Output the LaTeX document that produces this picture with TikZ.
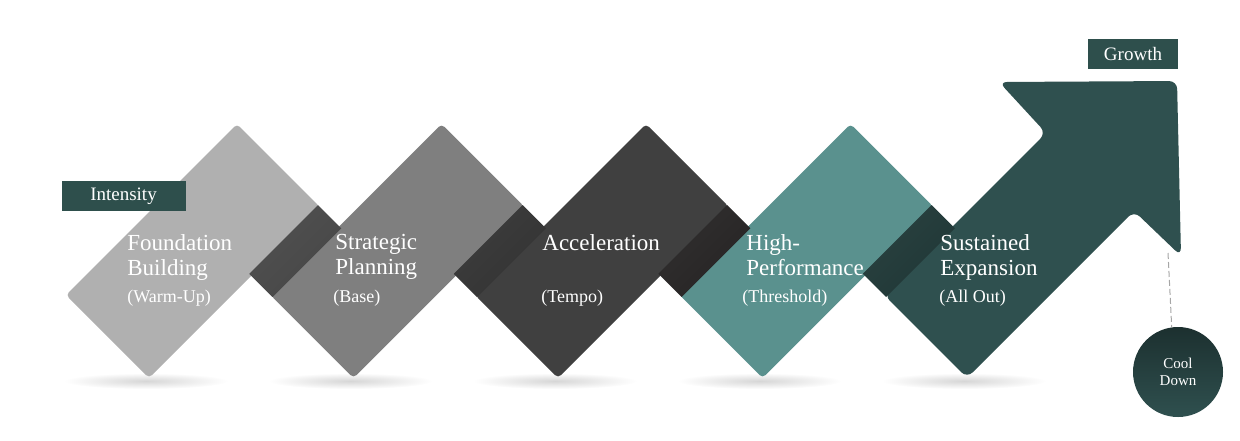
\documentclass[tikz,border=0pt]{standalone}
\usepackage{fontspec}
\setmainfont{Liberation Serif}
\usetikzlibrary{shapes}

\definecolor{stepone}{HTML}{B0B0B0}
\definecolor{steptwo}{HTML}{7F7F7F}
\definecolor{stepthree}{HTML}{404040}
\definecolor{stepfour}{HTML}{5A918E}
\definecolor{stepfive}{HTML}{2F504F}
\definecolor{foldone}{HTML}{474747}
\definecolor{foldtwo}{HTML}{333333}
\definecolor{foldthree}{HTML}{262424}
\definecolor{foldfour}{HTML}{1F3736}
\definecolor{tagteal}{HTML}{2E4F4C}

\begin{document}
\begin{tikzpicture}[x=0.5pt, y=-0.5pt,
		title/.style={text=white, font=\fontsize{11.5}{12.5}\selectfont, align=left, inner sep=0, anchor=north west},
		subtitle/.style={text=white, font=\fontsize{9}{10}\selectfont, inner sep=0, anchor=base west},
		tagbox/.style={fill=tagteal, text=white, font=\fontsize{9.5}{10}\selectfont, minimum width=62pt, minimum height=15pt, inner sep=0},
		shadowblob/.style={inner color=black!16, outer color=white},
		fold/.style={top color=#1, bottom color=#1!95!white, shading angle=225},
		cooldown/.style={circle, top color=black!40!stepfive, bottom color=stepfive, text=white, minimum size=45pt, inner sep=0, align=center, font=\fontsize{7.5}{8.5}\selectfont},
		dashline/.style={gray!70, line width=0.5pt, dash pattern=on 3pt off 1.5pt}]
	\useasboundingbox (0,0) rectangle (1240,440);

	% shadows %
	\shade[shadowblob] (146,381) ellipse (41pt and 4pt);
	\shade[shadowblob] (350.5,381) ellipse (41pt and 4pt);
	\shade[shadowblob] (555,381) ellipse (41pt and 4pt);
	\shade[shadowblob] (759.5,381) ellipse (41pt and 4pt);
	\shade[shadowblob] (964,381) ellipse (41pt and 4pt);

	% steps %
	\fill[stepone, rounded corners=2pt] (149,378) -- (66,295) -- (237,124) -- (320,207) -- cycle;
	\fill[steptwo, rounded corners=2pt] (353.5,378) -- (270.5,295) -- (441.5,124) -- (524.5,207) -- cycle;
	\fill[stepthree, rounded corners=2pt] (558,378) -- (475,295) -- (646,124) -- (729,207) -- cycle;
	\fill[stepfour, rounded corners=2pt] (762.5,378) -- (679.5,295) -- (850.5,124) -- (933.5,207) -- cycle;
	\fill[stepfive, rounded corners=4pt] (967,378) -- (884,295) -- (1046,133) -- (999,82) -- (1177,81) -- (1181,256) -- (1134,211) -- cycle;

	% folds %
	\shade[fold=foldone] (318,205) -- (341.25,228.25) -- (272.5,297) -- (249.25,273.75) -- cycle;
	\shade[fold=foldtwo] (522.5,205) -- (545.75,228.25) -- (477,297) -- (453.75,273.75) -- cycle;
	\shade[fold=foldthree] (727,205) -- (750.25,228.25) -- (681.5,297) -- (658.25,273.75) -- cycle;
	\shade[fold=foldfour] (931.5,205) -- (954.75,228.25) -- (886,297) -- (862.75,273.75) -- cycle;

	% nodes %
	\node[title] (found) at (127,234) {Foundation\\Building};
	\node[subtitle] (warmup) at (127,302) {(Warm-Up)};
	\node[title] (strat) at (335,234) {Strategic\\Planning};
	\node[subtitle] (base) at (333,302) {(Base)};
	\node[title] (accel) at (542,234) {Acceleration};
	\node[subtitle] (tempo) at (541,302) {(Tempo)};
	\node[title] (perf) at (746,234) {High-\\Performance};
	\node[subtitle] (thresh) at (742,302) {(Threshold)};
	\node[title] (expand) at (940,234) {Sustained\\Expansion};
	\node[subtitle] (allout) at (939,302) {(All Out)};

	\node[tagbox] (intensity) at (123.5,196) {Intensity};
	\node[tagbox, minimum width=45pt] (growth) at (1133,53.5) {Growth};
	\node[cooldown] (cool) at (1178,372) {Cool\\Down};
	\coordinate (headfoot) at (1168,253);

	% edges %
	\draw[dashline] (headfoot) -- (cool.98);
\end{tikzpicture}
\end{document}
